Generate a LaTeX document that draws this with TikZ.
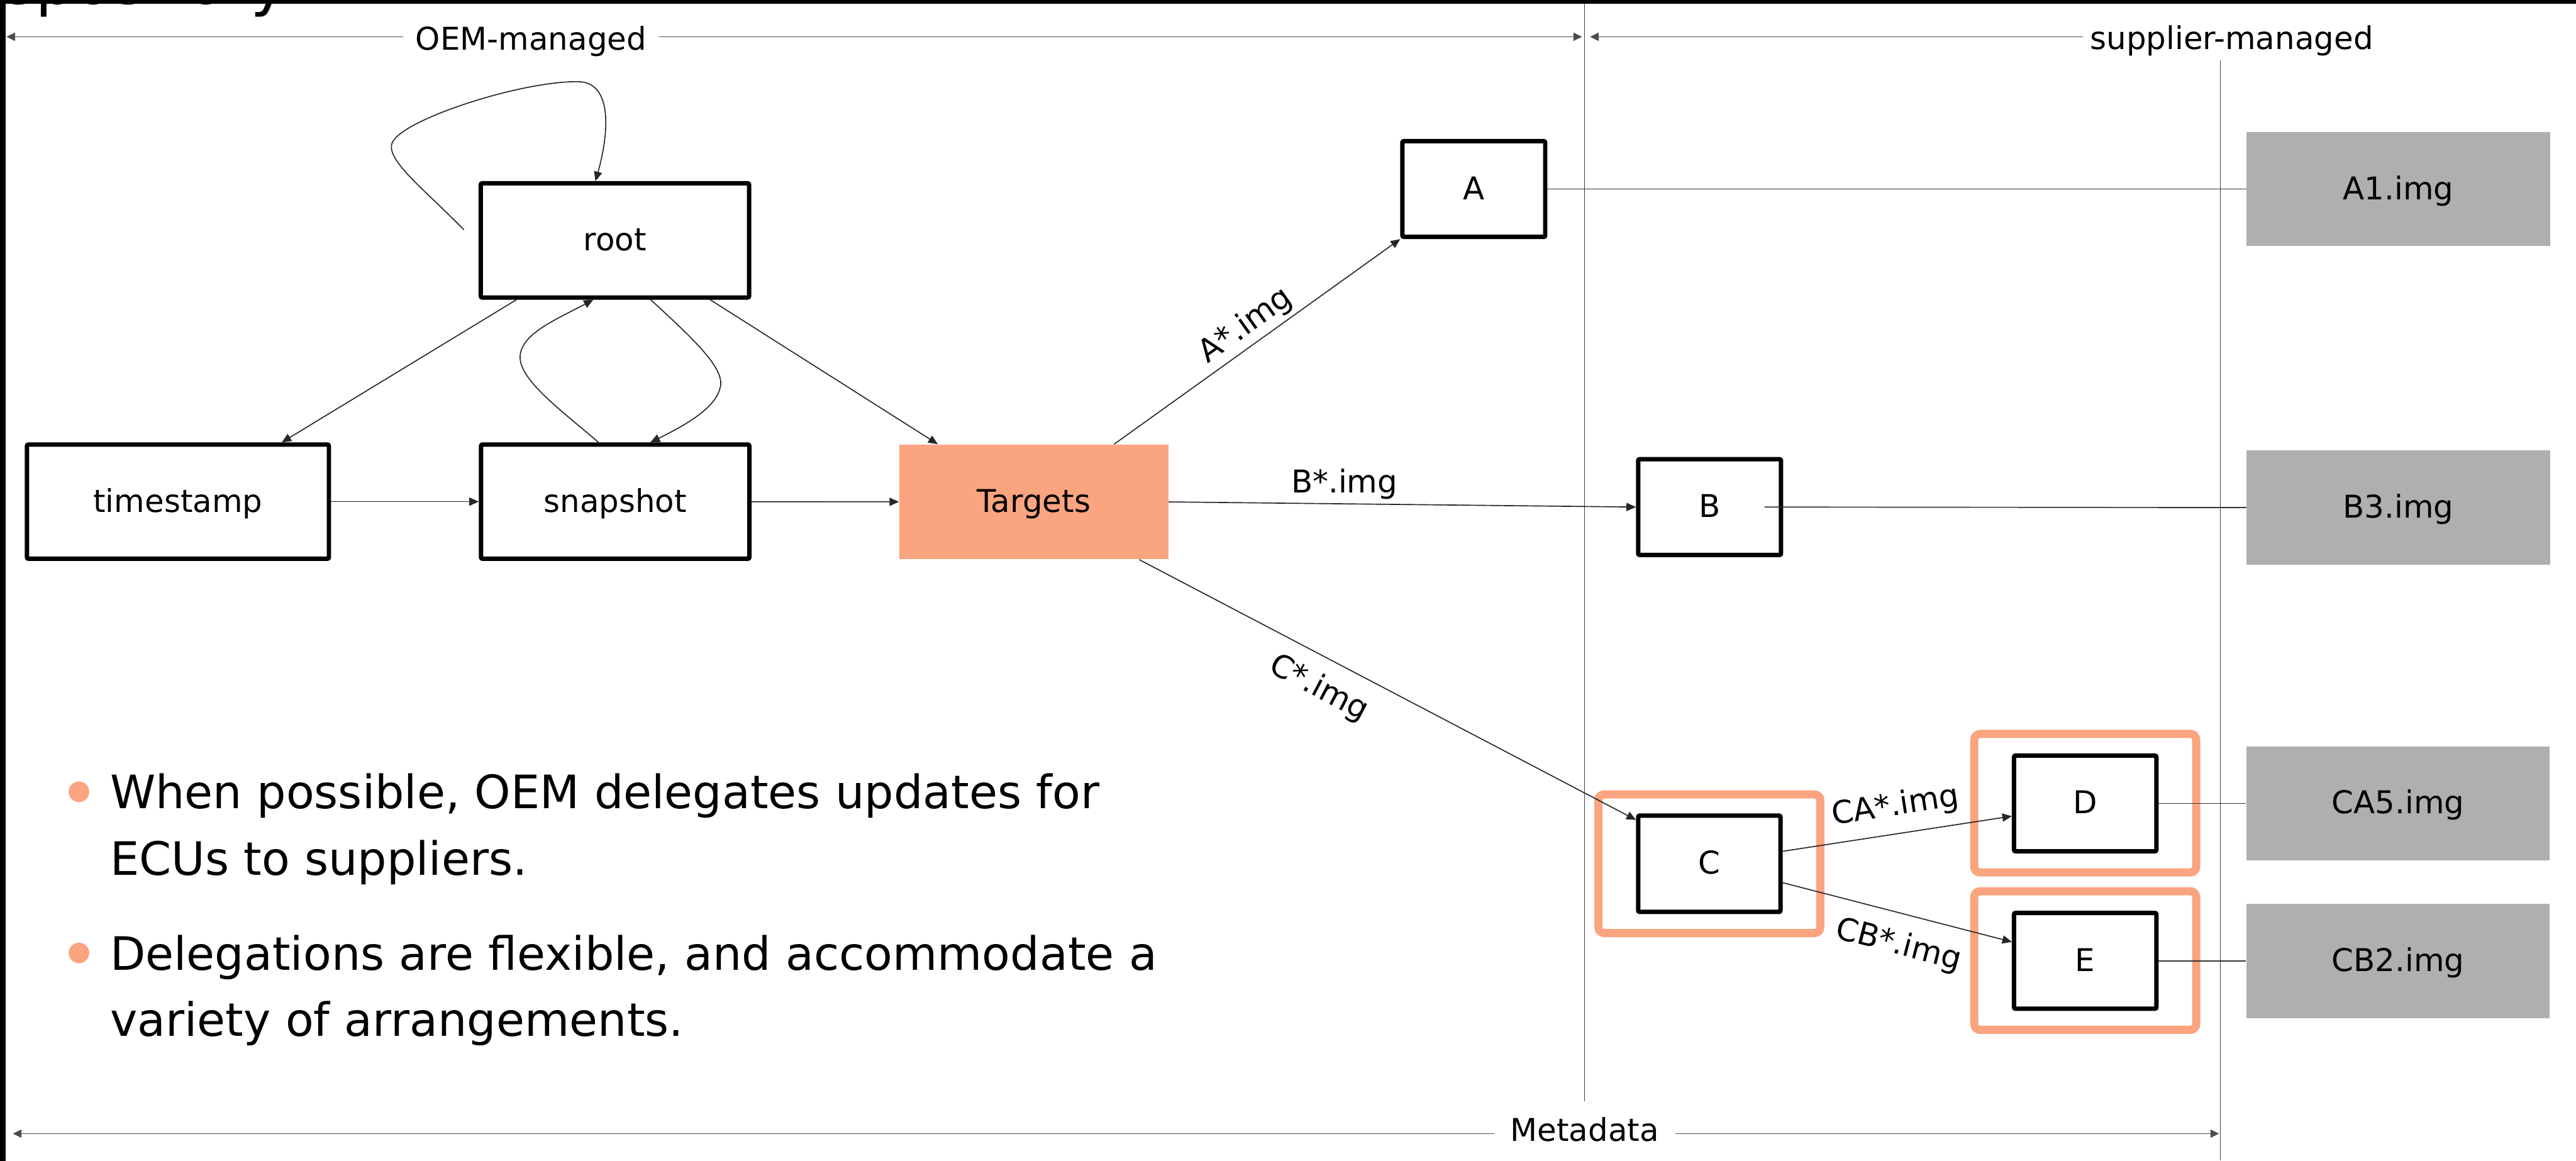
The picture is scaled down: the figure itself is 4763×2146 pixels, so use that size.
\documentclass[tikz,border=0pt]{standalone}
\usepackage{fontspec}
\setmainfont{DejaVu Sans}
\usetikzlibrary{arrows.meta,calc}
\definecolor{salmon}{RGB}{250,164,128}
\definecolor{imggray}{RGB}{175,175,175}
\begin{document}
\begin{tikzpicture}[x=0.01cm,y=-0.01cm,
  lbl/.style={font=\fontsize{16.5}{20}\selectfont},
  boxlbl/.style={lbl, text height=1.09em, text depth=0pt},
  metabox/.style={draw=black, line width=2.3pt, rounded corners=0.8pt, fill=white,
    inner sep=0pt, minimum width=2.64cm, minimum height=1.77cm, boxlbl},
  rolebox/.style={metabox, minimum width=4.96cm, minimum height=2.11cm},
  targetbox/.style={fill=salmon, inner sep=0pt, minimum width=4.97cm, minimum height=2.12cm, boxlbl},
  imgbox/.style={fill=imggray, inner sep=0pt, minimum width=5.61cm, minimum height=2.11cm, boxlbl},
  delegframe/.style={draw=salmon, line width=4.3pt, rounded corners=3pt, inner sep=0pt,
    minimum width=4.10cm, minimum height=2.56cm},
  conn/.style={draw=black!85, line width=0.55pt, -{Triangle[length=5pt,width=4.3pt]}},
  plainconn/.style={draw=black!80, line width=0.55pt},
  elbl/.style={lbl, inner sep=2pt},
  divider/.style={draw=black!75, line width=0.45pt},
  span/.style={draw=black!70, line width=0.6pt},
  spanlbl/.style={lbl, fill=white, anchor=base},
  bullet/.style={font=\fontsize{24.2}{35}\selectfont, anchor=base west, inner sep=0pt},
  dot/.style={circle, fill=salmon, minimum size=0.38cm, inner sep=0pt}
]
\useasboundingbox (0,0) rectangle (4763,2146);
\clip (0,0) rectangle (4763,2146);

% slide title, mostly running off the top edge
\node[font=\fontsize{32.7}{40}\selectfont, anchor=base west, inner sep=0pt] (title) at (-81,8) {Repository};

% column dividers
\draw[divider] (2930,0) -- (2930,2036);
\draw[divider] (4105,112) -- (4105,2146);

% extent arrows
\coordinate (oemL) at (12,68);
\coordinate (oemR) at (2925,68);
\coordinate (supL) at (2940,68);
\coordinate (metaL) at (24,2096);
\coordinate (metaR) at (4103,2096);
\draw[span, {Triangle[length=4.5pt,width=4.3pt]}-{Triangle[length=4.5pt,width=4.3pt]}] (oemL) -- (oemR);
\node[spanlbl, inner xsep=6.5pt] (oem) at (982,92) {OEM-managed};
\node[lbl, fill=white, anchor=base west, inner xsep=3.7pt, inner ysep=2pt] (sup) at (3851,91) {supplier-managed};
\draw[span, {Triangle[length=4.5pt,width=4.3pt]}-] (supL) -- (sup.west |- supL);
\draw[span, {Triangle[length=4.5pt,width=4.3pt]}-{Triangle[length=4.5pt,width=4.3pt]}] (metaL) -- (metaR);
\node[spanlbl, inner sep=8.5pt] (metadata) at (2930,2110) {Metadata};

% delegation frames
\node[delegframe] (Cf) at (3160.5,1597) {};
\node[delegframe] (Df) at (3855.5,1485) {};
\node[delegframe] (Ef) at (3855.5,1776) {};

% metadata roles
\node[rolebox] (root) at (1137,444.5) {root};
\node[rolebox, minimum width=5.58cm] (timestamp) at (329,927.5) {timestamp};
\node[rolebox] (snapshot) at (1137.5,927.5) {snapshot};
\node[targetbox] (targets) at (1911.5,928) {Targets};
\node[metabox] (A) at (2725,349.5) {A};
\node[metabox] (B) at (3161,937.5) {B};
\node[metabox, minimum width=2.63cm, minimum height=1.78cm] (C) at (3160.5,1597) {C};
\node[metabox, minimum width=2.63cm] (D) at (3855.5,1485.5) {D};
\node[metabox, minimum width=2.63cm] (E) at (3855.5,1776.5) {E};

% images
\node[imgbox] (A1) at (4434.5,349.5) {A1.img};
\node[imgbox] (B3) at (4434.5,938.5) {B3.img};
\node[imgbox] (CA5) at (4434,1485.5) {CA5.img};
\node[imgbox] (CB2) at (4434,1776.5) {CB2.img};

% role connectors
\draw[conn] ($(root.west)+(-27,-19.5)$) .. controls (790,355) and (718,300) .. (724,268)
  .. controls (730,225) and (960,150) .. (1068,151)
  .. controls (1135,151) and (1125,250) .. ($(root.north)+(-36,0)$);
\draw[conn] ($(root.south)+(-182,0)$) -- ($(timestamp.north)+(192,0)$);
\draw[conn] ($(root.south)+(176,0)$) -- ($(targets.north)+(-177.5,0)$);
\draw[conn] ($(root.south)+(66,0)$) .. controls (1280,625) and (1340,680) .. (1332,715)
  .. controls (1325,750) and (1280,780) .. ($(snapshot.north)+(65,0)$);
\draw[conn] ($(snapshot.north)+(-31,0)$) .. controls (1040,760) and (955,700) .. (962,655)
  .. controls (968,615) and (1030,590) .. ($(root.south)+(-40,0)$);
\draw[conn] (timestamp) -- (snapshot);
\draw[conn] (snapshot) -- (targets);

% delegations
\draw[conn] ($(targets.north)+(148.5,0)$) -- node[elbl, sloped, above, pos=0.5] {A*.img} (A.south west);
\draw[conn] (targets.east) -- node[elbl, above, pos=0.376] {B*.img} (B.west);
\draw[conn] ($(targets.south)+(195,0)$) -- node[elbl, sloped, below=6pt, pos=0.39] {C*.img} ($(C.north west)+(0,12)$);
\draw[conn] ($(C.east)+(0,-23)$) -- node[elbl, sloped, above=4pt, pos=0.51] {CA*.img} ($(D.west)+(0,23.5)$);
\draw[conn] ($(C.east)+(0,35)$) -- node[elbl, sloped, below=6.5pt, pos=0.54] {CB*.img} ($(E.west)+(0,-35)$);

% image links
\draw[plainconn] (A) -- (A1);
\draw[plainconn] ($(B.east)+(-34,0)$) -- (B3.west);
\draw[plainconn] (D) -- (CA5);
\draw[plainconn] (E) -- (CB2);

% bullet points
\node[dot] (dot1) at (146,1464) {};
\node[bullet] (item1a) at (203,1495) {When possible, OEM delegates updates for};
\node[bullet] (item1b) at (203,1618) {ECUs to suppliers.};
\node[dot] (dot2) at (146,1762) {};
\node[bullet] (item2a) at (203,1794) {Delegations are flexible, and accommodate a};
\node[bullet] (item2b) at (203,1916) {variety of arrangements.};

% outer frame
\draw[line width=0.14cm] (4,0) rectangle (6000,4000);
\end{tikzpicture}
\end{document}
